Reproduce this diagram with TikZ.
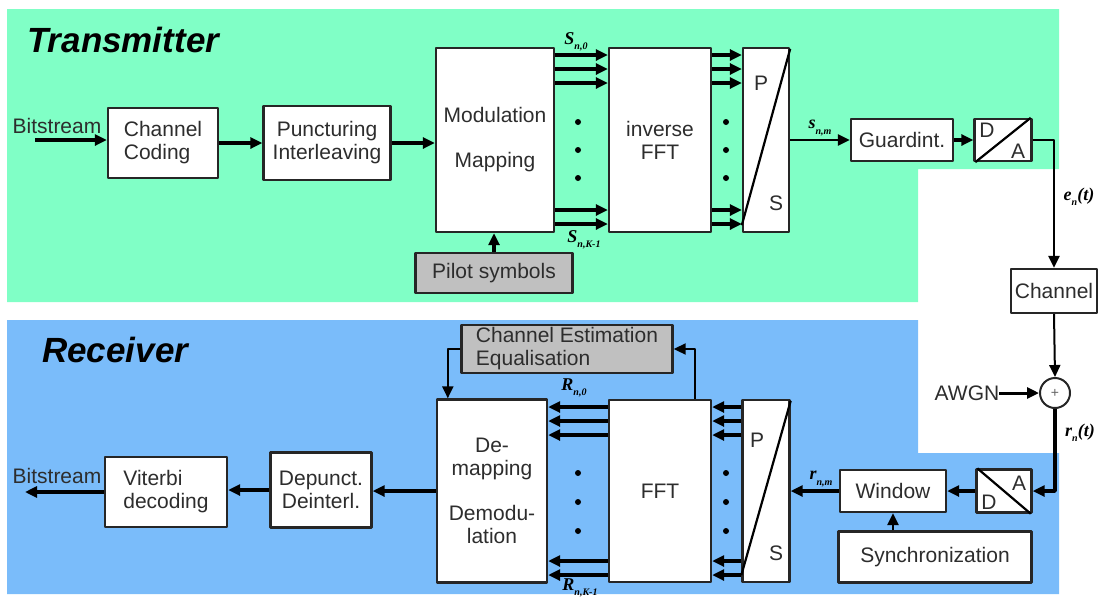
\documentclass[tikz,border=0pt]{standalone}
\usepackage{fontspec}
\setmainfont{Liberation Sans}
\newfontfamily\lblfont{Liberation Serif}
\usetikzlibrary{arrows.meta}

\definecolor{txgreen}{RGB}{128,255,198}
\definecolor{rxblue}{RGB}{122,188,250}
\definecolor{boxgrey}{RGB}{192,192,192}
\definecolor{boxtext}{RGB}{45,45,45}

\newcommand\lsub[1]{\raisebox{-0.3em}{\fontsize{10}{10}\selectfont #1}}

\tikzset{
  blk/.style={draw=black!85, line width=2.4pt, fill=white, text=boxtext, inner sep=0pt,
    font={\fontsize{21}{23}\selectfont}},
  greyblk/.style={blk, fill=boxgrey},
  title/.style={inner sep=0pt, font={\fontsize{35}{37}\selectfont\bfseries\itshape}},
  lbl/.style={inner sep=0pt, text=boxtext, font={\fontsize{21}{23}\selectfont}},
  sig/.style={inner sep=0pt, font={\lblfont\fontsize{18}{20}\selectfont\bfseries\itshape}},
  flow/.style={->, line width=3.4pt},
  wire/.style={->, line width=2pt},
}

\begin{document}
\begin{tikzpicture}[x=1pt, y=-1pt, >={Triangle[length=12pt,width=11pt]}, line join=round]
  \useasboundingbox (0,0) rectangle (1102,606);

  % ---------- backgrounds ----------
  \fill[txgreen] (7,9) -- (1059,9) -- (1059,169) -- (918,169) -- (918,302) -- (7,302) -- cycle;
  \fill[rxblue] (7,320) -- (918,320) -- (918,453) -- (1059,453) -- (1059,594) -- (7,594) -- cycle;

  \node[title, anchor=base west] (txtitle) at (27,52) {Transmitter};
  \node[title, anchor=base west] (rxtitle) at (42,362) {Receiver};

  % ---------- transmitter ----------
  \node[lbl] (txbits) at (57,126) {Bitstream};
  \coordinate (txin) at (35,140);
  \node[blk, minimum width=110, minimum height=70, align=left] (coding) at (163,143) {Channel\\Coding};
  \node[blk, minimum width=127, minimum height=74, align=center] (punct) at (327,143) {Puncturing\\Interleaving};
  \node[blk, minimum width=118, minimum height=184, align=center] (modul) at (495,140) {Modulation\\[22pt]Mapping};
  \node[greyblk, minimum width=157, minimum height=40] (pilot) at (494,273) {Pilot symbols};
  \node[blk, minimum width=102, minimum height=184, align=center] (ifft) at (660,140) {inverse\\FFT};
  \node[blk, minimum width=46, minimum height=184] (ptos) at (766,140) {};
  \node[lbl] (ptosP) at (761,83) {P};
  \node[lbl] (ptosS) at (776,203) {S};
  \node[blk, minimum width=102, minimum height=42] (guard) at (902,140) {Guardint.};
  \node[blk, minimum width=57, minimum height=42] (dac) at (1003,140) {};
  \node[lbl] (dacD) at (987,130) {D};
  \node[lbl] (dacA) at (1018,151) {A};

  \node[sig] (sn0) at (576,42) {S\lsub{n,0}};
  \node[sig] (snk) at (584,240) {S\lsub{n,K-1}};
  \node[sig] (snm) at (820,128) {s\lsub{n,m}};

  \draw[flow, line width=4.5pt] (txin) -- (txin -| coding.west);
  \draw[flow] (coding.east) -- (punct.west);
  \draw[flow] (punct.east) -- (punct.east -| modul.west);
  \draw[flow] (pilot.north) -- (pilot.north |- modul.south);
  \foreach \y in {55,69,83,210,224} {
    \draw[flow] (modul.east |- 0,\y) -- (ifft.west |- 0,\y);
    \draw[flow] (ifft.east |- 0,\y) -- (ptos.west |- 0,\y);
  }
  \foreach \y in {122,150,178} {
    \fill (578,\y) circle (3);
    \fill (726,\y) circle (3);
  }
  \draw[line width=2.2pt] ([yshift=8pt]ptos.south west) -- ([yshift=-2pt]ptos.north east);
  \draw[line width=2.2pt] ([xshift=2pt]dac.south west) -- ([xshift=-2pt]dac.north east);
  \draw[flow, line width=2.6pt] (ptos.east |- guard.west) -- (guard.west);
  \draw[flow] (guard.east) -- (dac.west);

  % ---------- channel ----------
  \node[blk, minimum width=86, minimum height=44] (chan) at (1054,291) {Channel};
  \node[sig] (ent) at (1079,197) {e\lsub{n}(t)};
  \node[draw=black!85, circle, line width=2pt, fill=white, minimum size=30, inner sep=0pt,
    text=black!60, font={\fontsize{14}{14}\selectfont}] (plus) at (1055,393) {+};
  \node[lbl] (awgn) at (967,393) {AWGN};
  \node[sig] (rnt) at (1080,433) {r\lsub{n}(t)};

  \draw[wire, line width=2.6pt] (dac.east) -| (chan.north);
  \draw[wire] (chan.south) -- (plus.north);
  \draw[flow, line width=3pt] (awgn.east) -- (plus.west);

  % ---------- receiver ----------
  \node[blk, minimum width=55, minimum height=43] (adc) at (1004,491) {};
  \node[lbl] (adcA) at (1019,483) {A};
  \node[lbl] (adcD) at (989,502) {D};
  \node[blk, minimum width=106, minimum height=42] (window) at (893,491) {Window};
  \node[blk, minimum width=193, minimum height=51] (sync) at (935,557) {Synchronization};
  \node[blk, minimum width=47, minimum height=182] (stop) at (766,491) {};
  \node[lbl] (stopP) at (757,440) {P};
  \node[lbl] (stopS) at (776,553) {S};
  \node[blk, minimum width=102, minimum height=182] (fft) at (660,491) {FFT};
  \node[blk, minimum width=110, minimum height=183, align=center] (demap) at (492,491)
    {De-\\mapping\\[22pt]Demodu-\\lation};
  \node[greyblk, minimum width=211, minimum height=48, align=left] (chest) at (567,349)
    {Channel Estimation\\Equalisation};
  \node[blk, minimum width=101, minimum height=75, align=center] (depunct) at (321,490) {Depunct.\\Deinterl.};
  \node[blk, minimum width=122, minimum height=70, align=left] (viterbi) at (166,492) {Viterbi\\decoding};
  \node[lbl] (rxbits) at (57,476) {Bitstream};
  \coordinate (rxout) at (25,492);

  \node[sig] (rn0) at (574,388) {R\lsub{n,0}};
  \node[sig] (rnk) at (580,588) {R\lsub{n,K-1}};
  \node[sig] (rnm) at (821,479) {r\lsub{n,m}};

  \draw[flow] (plus.south) |- (adc.east);
  \draw[flow] (adc.west) -- (window.east);
  \draw[flow, line width=2.6pt] (sync.north -| window.south) -- (window.south);
  \draw[flow] (window.west) -- (window.west -| stop.east);
  \draw[line width=2.2pt] ([yshift=8pt]stop.south west) -- ([yshift=-2pt]stop.north east);
  \draw[line width=2.2pt] ([xshift=2pt]adc.north west) -- ([xshift=-2pt]adc.south east);
  \foreach \y in {407,421,435,561,575} {
    \draw[flow] (stop.west |- 0,\y) -- (fft.east |- 0,\y);
    \draw[flow] (fft.west |- 0,\y) -- (demap.east |- 0,\y);
  }
  \foreach \y in {473,502,531} {
    \fill (578,\y) circle (3);
    \fill (726,\y) circle (3);
  }
  \draw[wire] ([xshift=-17pt]fft.north east) |- (chest.east);
  \draw[wire] (chest.west) -| ([xshift=12pt]demap.north west);
  \draw[flow] (demap.west) -- (demap.west -| depunct.east);
  \draw[flow] (depunct.west) -- (depunct.west -| viterbi.east);
  \draw[flow] (viterbi.west |- rxout) -- (rxout);

\end{tikzpicture}
\end{document}
